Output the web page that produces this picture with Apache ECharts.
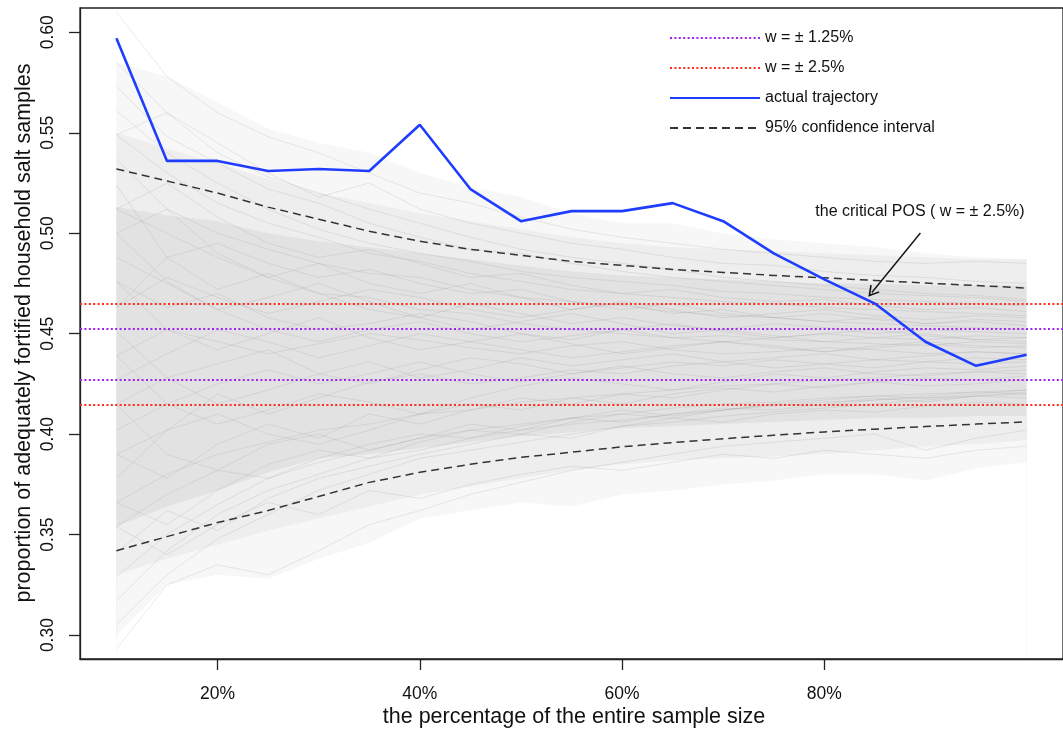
<!DOCTYPE html>
<html>
<head>
<meta charset="utf-8">
<script src="https://cdn.jsdelivr.net/npm/echarts@6/dist/echarts.min.js"></script>
<style>
html,body{margin:0;padding:0;background:#fff;}
#chart{width:1063px;height:730px;}
</style>
</head>
<body>
<div id="chart"></div>
<script>
// ---- data ----
const xPct = [10,15,20,25,30,35,40,45,50,55,60,65,70,75,80,85,90,95,100];
const actualTrajectory = [0.597,0.536,0.536,0.531,0.532,0.531,0.554,0.522,0.506,0.511,0.511,0.515,0.506,0.490,0.477,0.465,0.446,0.434,0.4395];
const ciUpper = [0.532,0.526,0.520,0.513,0.507,0.501,0.496,0.492,0.489,0.486,0.484,0.482,0.4805,0.479,0.4778,0.4765,0.4752,0.474,0.4727];
const ciLower = [0.342,0.349,0.356,0.362,0.369,0.376,0.381,0.385,0.3885,0.391,0.3937,0.3958,0.3977,0.3995,0.4011,0.4025,0.4038,0.405,0.4061];
const refCenter = 0.4398;
const wNarrow = 0.0125;
const wWide = 0.025;
const xTickValues = [20,40,60,80];
const yTickValues = [0.30,0.35,0.40,0.45,0.50,0.55,0.60];
// envelope of the simulated trajectories (faint outer, mid, dense core)
const outerHi = [0.585,0.578,0.565,0.552,0.545,0.540,0.530,0.523,0.518,0.510,0.505,0.505,0.500,0.497,0.495,0.493,0.490,0.488,0.487];
const outerLo = [0.300,0.325,0.330,0.328,0.338,0.346,0.358,0.362,0.366,0.364,0.370,0.372,0.375,0.377,0.380,0.380,0.377,0.383,0.386];
const midHi = [0.550,0.542,0.535,0.527,0.520,0.515,0.510,0.506,0.502,0.498,0.495,0.493,0.492,0.491,0.490,0.489,0.488,0.487,0.487];
const midLo = [0.330,0.338,0.345,0.352,0.358,0.364,0.370,0.374,0.378,0.382,0.385,0.387,0.388,0.389,0.390,0.392,0.394,0.395,0.397];
const coreHi = [0.513,0.509,0.506,0.500,0.496,0.493,0.490,0.487,0.484,0.481,0.479,0.478,0.477,0.476,0.475,0.475,0.474,0.474,0.474];
const coreLo = [0.354,0.364,0.372,0.381,0.388,0.390,0.393,0.396,0.399,0.401,0.403,0.404,0.405,0.406,0.407,0.408,0.408,0.409,0.409];
// sample of the simulated trajectories
const g1 = [0.512,0.500,0.488,0.478,0.470,0.468,0.462,0.460,0.455,0.452,0.450,0.448,0.449,0.447,0.446,0.445,0.444,0.446,0.445];
const g2 = [0.366,0.380,0.390,0.396,0.402,0.405,0.410,0.412,0.416,0.418,0.420,0.422,0.424,0.425,0.427,0.428,0.430,0.431,0.432];
const g3 = [0.439,0.452,0.446,0.440,0.445,0.450,0.447,0.443,0.440,0.444,0.446,0.442,0.440,0.441,0.443,0.442,0.440,0.441,0.440];
const g4 = [0.549,0.530,0.515,0.505,0.498,0.490,0.486,0.480,0.476,0.472,0.470,0.468,0.466,0.465,0.463,0.462,0.461,0.460,0.459];
const g5 = [0.329,0.350,0.365,0.378,0.386,0.392,0.398,0.402,0.405,0.408,0.410,0.413,0.415,0.416,0.418,0.419,0.420,0.421,0.422];
const g6 = [0.476,0.463,0.470,0.458,0.452,0.455,0.460,0.456,0.450,0.447,0.452,0.455,0.451,0.448,0.450,0.452,0.449,0.447,0.448];
const g7 = [0.402,0.415,0.405,0.412,0.420,0.416,0.410,0.418,0.424,0.428,0.425,0.422,0.426,0.430,0.428,0.431,0.433,0.432,0.434];
const g8 = [0.585,0.560,0.540,0.528,0.520,0.512,0.505,0.498,0.492,0.488,0.485,0.482,0.478,0.476,0.474,0.472,0.470,0.469,0.467];
const g9 = [0.305,0.330,0.348,0.360,0.372,0.380,0.388,0.392,0.396,0.400,0.404,0.406,0.409,0.411,0.413,0.415,0.417,0.419,0.420];
const g10 = [0.451,0.428,0.435,0.442,0.430,0.425,0.432,0.438,0.435,0.430,0.433,0.436,0.434,0.437,0.435,0.433,0.436,0.438,0.437];
const g11 = [0.524,0.488,0.472,0.480,0.470,0.462,0.458,0.465,0.460,0.455,0.458,0.454,0.452,0.455,0.453,0.450,0.452,0.451,0.450];
const g12 = [0.378,0.402,0.420,0.410,0.418,0.426,0.430,0.425,0.428,0.432,0.430,0.434,0.436,0.433,0.435,0.437,0.436,0.435,0.436];
const g13 = [0.463,0.488,0.495,0.485,0.478,0.482,0.475,0.470,0.472,0.466,0.462,0.465,0.460,0.458,0.460,0.457,0.455,0.456,0.454];
const g14 = [0.415,0.390,0.382,0.395,0.400,0.392,0.398,0.405,0.402,0.408,0.412,0.409,0.412,0.415,0.414,0.417,0.419,0.421,0.420];
const g15 = [0.561,0.540,0.525,0.512,0.502,0.495,0.490,0.486,0.481,0.478,0.476,0.474,0.471,0.470,0.468,0.467,0.466,0.465,0.464];
const g16 = [0.354,0.370,0.382,0.378,0.388,0.395,0.400,0.398,0.404,0.408,0.406,0.410,0.413,0.412,0.415,0.418,0.416,0.419,0.421];
const g17 = [0.488,0.475,0.462,0.468,0.475,0.466,0.458,0.452,0.456,0.460,0.455,0.450,0.452,0.449,0.446,0.448,0.450,0.447,0.446];
const g18 = [0.427,0.440,0.452,0.446,0.438,0.444,0.450,0.446,0.442,0.438,0.441,0.444,0.446,0.443,0.441,0.444,0.446,0.444,0.443];
const g19 = [0.390,0.378,0.395,0.405,0.398,0.410,0.405,0.412,0.418,0.415,0.420,0.418,0.422,0.425,0.423,0.426,0.428,0.427,0.429];
const g20 = [0.537,0.512,0.500,0.492,0.485,0.480,0.478,0.472,0.468,0.466,0.464,0.461,0.459,0.458,0.456,0.455,0.454,0.453,0.452];
const g21 = [0.317,0.342,0.360,0.372,0.380,0.388,0.392,0.398,0.402,0.405,0.407,0.410,0.412,0.414,0.416,0.417,0.418,0.419,0.418];
const g22 = [0.500,0.512,0.490,0.478,0.485,0.475,0.470,0.475,0.468,0.462,0.465,0.460,0.462,0.458,0.456,0.458,0.455,0.457,0.456];
const g23 = [0.366,0.355,0.372,0.385,0.392,0.388,0.396,0.402,0.400,0.406,0.410,0.408,0.412,0.415,0.417,0.419,0.418,0.420,0.422];
const g24 = [0.573,0.548,0.535,0.522,0.515,0.505,0.498,0.492,0.490,0.485,0.481,0.478,0.476,0.474,0.472,0.470,0.469,0.468,0.466];
const g25 = [0.341,0.362,0.352,0.368,0.378,0.384,0.390,0.395,0.400,0.398,0.404,0.408,0.406,0.410,0.412,0.411,0.414,0.416,0.415];
const g26 = [0.476,0.452,0.442,0.450,0.458,0.448,0.442,0.446,0.450,0.445,0.440,0.443,0.446,0.444,0.441,0.443,0.445,0.443,0.444];
const g27 = [0.415,0.428,0.415,0.422,0.430,0.436,0.428,0.432,0.438,0.434,0.437,0.440,0.436,0.438,0.440,0.437,0.439,0.441,0.440];
const g28 = [0.512,0.525,0.508,0.495,0.488,0.492,0.485,0.478,0.480,0.474,0.470,0.472,0.468,0.466,0.467,0.464,0.462,0.463,0.461];
const g29 = [0.439,0.415,0.425,0.432,0.425,0.430,0.436,0.430,0.426,0.430,0.434,0.430,0.428,0.431,0.433,0.430,0.429,0.431,0.430];
const g30 = [0.293,0.325,0.335,0.330,0.342,0.355,0.362,0.370,0.376,0.382,0.386,0.390,0.394,0.396,0.398,0.400,0.392,0.398,0.402];
const g31 = [0.610,0.578,0.560,0.548,0.540,0.530,0.520,0.515,0.508,0.502,0.498,0.495,0.492,0.490,0.488,0.486,0.485,0.486,0.485];
const g32 = [0.463,0.478,0.468,0.460,0.466,0.472,0.468,0.462,0.458,0.462,0.466,0.462,0.458,0.460,0.462,0.459,0.457,0.459,0.458];
const g33 = [0.390,0.402,0.410,0.400,0.395,0.402,0.410,0.415,0.412,0.418,0.415,0.420,0.423,0.421,0.424,0.426,0.424,0.425,0.427];
const g34 = [0.549,0.560,0.545,0.530,0.518,0.525,0.512,0.505,0.500,0.495,0.492,0.488,0.485,0.484,0.481,0.479,0.478,0.476,0.475];
const g35 = [0.354,0.340,0.355,0.366,0.360,0.372,0.368,0.375,0.380,0.384,0.382,0.386,0.390,0.388,0.392,0.390,0.388,0.392,0.394];
const g36 = [0.500,0.476,0.462,0.452,0.446,0.452,0.456,0.450,0.446,0.449,0.452,0.448,0.446,0.448,0.450,0.448,0.447,0.449,0.448];
const arrowFrom = [89.5, 0.5001];
const arrowTo = [84.7, 0.4705];
const legendNames = ['w = \u00b1 1.25%','w = \u00b1 2.5%','actual trajectory','95% confidence interval'];
const annotationText = 'the critical POS ( w = \u00b1 2.5%)';

// ---- build ----
const FONT = "'Liberation Sans', Arial, Helvetica, sans-serif";
const pairs = arr => xPct.map((x,i)=>[x,arr[i]]);
const grayLines = [g1,g2,g3,g4,g5,g6,g7,g8,g9,g10,g11,g12,g13,g14,g15,g16,g17,g18,g19,g20,g21,g22,g23,g24,g25,g26,g27,g28,g29,g30,g31,g32,g33,g34,g35,g36];

const series = [];
// envelope bands painted top-down, each filled to the bottom of the plot
[[outerHi,'#f7f7f7'],[midHi,'#eeeeee'],[coreHi,'#e2e2e2'],[coreLo,'#eeeeee'],[midLo,'#f7f7f7'],[outerLo,'#ffffff']].forEach(([arr,c])=>{
  series.push({type:'line', data:pairs(arr), symbol:'none', silent:true, z:-1,
    lineStyle:{width:0,opacity:0}, areaStyle:{color:c,opacity:1,origin:'start'}});
});
grayLines.forEach(arr=>{
  series.push({type:'line', data:pairs(arr), symbol:'none', silent:true, z:1,
    lineStyle:{color:'rgba(150,150,150,0.2)', width:1}});
});
const dotted = [2,2.4];
series.push({name:legendNames[0], type:'line', data:[], symbol:'none', z:4,
  lineStyle:{color:'#a020f0', width:2, type:dotted}, itemStyle:{color:'#a020f0'},
  markLine:{silent:true, precision:5, symbol:['none','none'], label:{show:false},
    lineStyle:{color:'#a020f0', width:2, type:dotted},
    data:[{yAxis:refCenter+wNarrow},{yAxis:refCenter-wNarrow}]}});
series.push({name:legendNames[1], type:'line', data:[], symbol:'none', z:4,
  lineStyle:{color:'#ff2a1a', width:2, type:dotted}, itemStyle:{color:'#ff2a1a'},
  markLine:{silent:true, precision:5, symbol:['none','none'], label:{show:false},
    lineStyle:{color:'#ff2a1a', width:2, type:dotted},
    data:[{yAxis:refCenter+wWide},{yAxis:refCenter-wWide}]}});
series.push({name:legendNames[3], type:'line', data:pairs(ciUpper), symbol:'none', z:5,
  lineStyle:{color:'#333333', width:1.5, type:[8,5]}, itemStyle:{color:'#333333'}});
series.push({name:legendNames[3], type:'line', data:pairs(ciLower), symbol:'none', z:5,
  lineStyle:{color:'#333333', width:1.5, type:[8,5]}, itemStyle:{color:'#333333'}});
series.push({name:legendNames[2], type:'line', data:pairs(actualTrajectory), symbol:'none', z:6,
  lineStyle:{color:'#1f3dff', width:2.6}, itemStyle:{color:'#1f3dff'},
  markLine:{silent:true, precision:5, symbol:['none','path://M6,0 L12,11 L10.6,11.8 L6,3.4 L1.4,11.8 L0,11 Z'], symbolSize:[12,11],
    label:{show:false}, lineStyle:{color:'#111', width:1.4, type:'solid'},
    data:[[{coord:arrowFrom},{coord:arrowTo}]]}});

const chart = echarts.init(document.getElementById('chart'), null, {renderer:'canvas'});
chart.setOption({
  animation:false,
  backgroundColor:'#ffffff',
  textStyle:{fontFamily:FONT},
  grid:{left:80, top:8, width:987, bottom:71, show:true, borderColor:'#222', borderWidth:1.3, backgroundColor:'transparent'},
  legend:{data:legendNames, orient:'vertical', left:669, top:30, itemWidth:90, itemHeight:14, itemGap:14,
    padding:0, selectedMode:false, itemStyle:{opacity:0},
    textStyle:{fontSize:16, color:'#111', fontFamily:FONT, lineHeight:16}},
  xAxis:{type:'value', min:6.4, max:103.6, splitLine:{show:false},
    axisLine:{show:true, onZero:false, lineStyle:{color:'#222', width:1.3}},
    axisTick:{show:true, length:11, customValues:xTickValues, lineStyle:{color:'#222', width:1.3}},
    axisLabel:{customValues:xTickValues, formatter:v=>Math.round(v)+'%', fontSize:17.5, color:'#111', margin:26, fontFamily:FONT}},
  yAxis:{type:'value', min:0.2881, max:0.6121, splitLine:{show:false},
    axisLine:{show:true, onZero:false, lineStyle:{color:'#222', width:1.3}},
    axisTick:{show:true, length:11, customValues:yTickValues, lineStyle:{color:'#222', width:1.3}},
    axisLabel:{customValues:yTickValues, formatter:v=>v.toFixed(2), rotate:90, fontSize:17.5, color:'#111', margin:23, fontFamily:FONT}},
  graphic:[
    {type:'text', x:574, y:717, style:{text:'the percentage of the entire sample size', fontSize:21.5, fontFamily:FONT, fill:'#111', textAlign:'center', textVerticalAlign:'middle'}},
    {type:'text', x:24, y:333, rotation:Math.PI/2, style:{text:'proportion of adequately fortified household salt samples', fontSize:21.5, fontFamily:FONT, fill:'#111', textAlign:'center', textVerticalAlign:'middle'}},
    {type:'text', x:920, y:212, style:{text:annotationText, fontSize:16, fontFamily:FONT, fill:'#111', textAlign:'center', textVerticalAlign:'middle'}}
  ],
  series:series
});
</script>
</body>
</html>
